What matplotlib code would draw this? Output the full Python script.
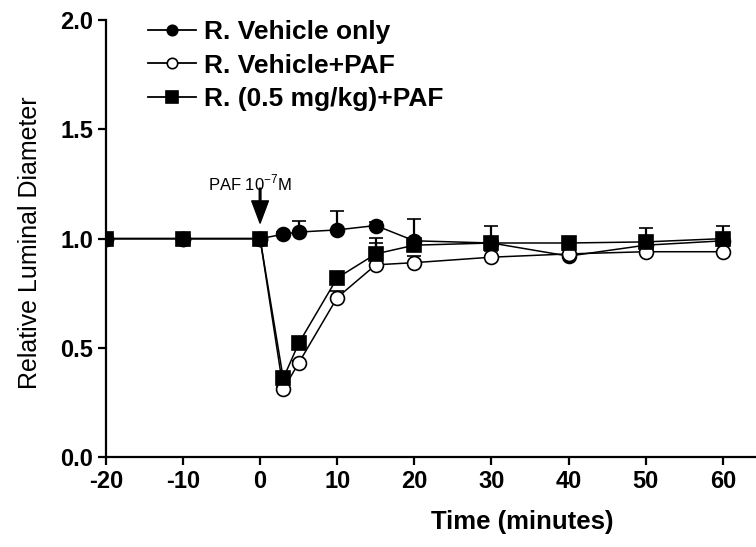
import numpy as np
import matplotlib
matplotlib.use('Agg')
import matplotlib.pyplot as plt
from matplotlib.lines import Line2D

plt.rcParams['font.family'] = ['Liberation Sans', 'DejaVu Sans']
plt.rcParams['axes.unicode_minus'] = False
plt.rcParams['mathtext.fontset'] = 'custom'
plt.rcParams['mathtext.rm'] = 'Liberation Sans'

# time points (minutes)
time = [-20, -10, 0, 3, 5, 10, 15, 20, 30, 40, 50, 60]

# R. Vehicle only
veh = [1.0, 1.0, 1.0, 1.02, 1.03, 1.04, 1.06, 0.99, 0.98, 0.92, 0.97, 0.99]
veh_err = [0, 0, 0, 0.01, 0.05, 0.085, 0.015, 0.10, 0.08, 0.0, 0.02, 0.02]

# R. Vehicle+PAF
paf = [1.0, 1.0, 1.0, 0.31, 0.43, 0.73, 0.88, 0.89, 0.915, 0.93, 0.94, 0.94]
paf_err = [0, 0, 0, 0.01, 0.01, 0.03, 0.10, 0.03, 0.03, 0.02, 0.03, 0.03]

# R. (0.5 mg/kg)+PAF
dose = [1.0, 1.0, 1.0, 0.36, 0.52, 0.82, 0.93, 0.97, 0.98, 0.98, 0.985, 1.0]
dose_err = [0, 0, 0, 0.01, 0.01, 0.02, 0.075, 0.02, 0.02, 0.01, 0.065, 0.06]

labels = ['R. Vehicle only', 'R. Vehicle+PAF', 'R. (0.5 mg/kg)+PAF']

fig = plt.figure(figsize=(7.56, 5.47), dpi=100)
ax = fig.add_axes([0.140, 0.1645, 0.860, 0.7985])

series = [
    (veh, veh_err, 'o', 'black', 3),
    (paf, paf_err, 'o', 'white', 4),
    (dose, dose_err, 's', 'black', 5),
]
handles = []
for (y, e, m, fc, z), lab in zip(series, labels):
    lo = np.zeros(len(e))
    ax.errorbar(time, y, yerr=[lo, e], fmt='-' + m, color='black',
                mfc=fc, mec='black', ms=10, mew=1.2, lw=1.1,
                elinewidth=1.6, capsize=5, capthick=1.8, zorder=z)
    handles.append(Line2D([], [], color='black', lw=1.3, marker=m,
                          mfc=fc, mec='black', ms=7.5 if m == 'o' else 8.5,
                          mew=1.2, label=lab))

ax.set_xlim(-20, 64.3)
ax.set_ylim(0, 2.0)
ax.set_xticks([-20, -10, 0, 10, 20, 30, 40, 50, 60])
ax.set_yticks([0.0, 0.5, 1.0, 1.5, 2.0])
ax.set_yticklabels(['0.0', '0.5', '1.0', '1.5', '2.0'])

for s in ['top', 'right']:
    ax.spines[s].set_visible(False)
for s in ['left', 'bottom']:
    ax.spines[s].set_linewidth(1.6)
ax.tick_params(direction='out', length=6, width=1.6, labelsize=17, pad=3)
for t in ax.get_xticklabels() + ax.get_yticklabels():
    t.set_fontweight('bold')

fig.text(522 / 756, 1 - 522 / 547, 'Time (minutes)', fontsize=18.5,
         fontweight='bold', ha='center', va='center')
fig.text(30 / 756, 1 - 243 / 547, 'Relative Luminal Diameter', fontsize=18,
         rotation=90, ha='center', va='center')

ax.annotate('', xy=(0, 1.071), xytext=(0, 1.231),
            arrowprops=dict(width=1.2, headwidth=12, headlength=16,
                            shrink=0, color='black'))
ax.text(-6.8, 1.255, 'PAF 10$^{-7}$M', fontsize=12, ha='left',
        va='center')

ax.legend(handles=handles, loc='upper left', bbox_to_anchor=(0.029, 1.054),
          frameon=False, handlelength=1.8, handletextpad=0.3,
          labelspacing=0.35, prop={'weight': 'bold', 'size': 19})

fig.savefig('out.png', dpi=100)
